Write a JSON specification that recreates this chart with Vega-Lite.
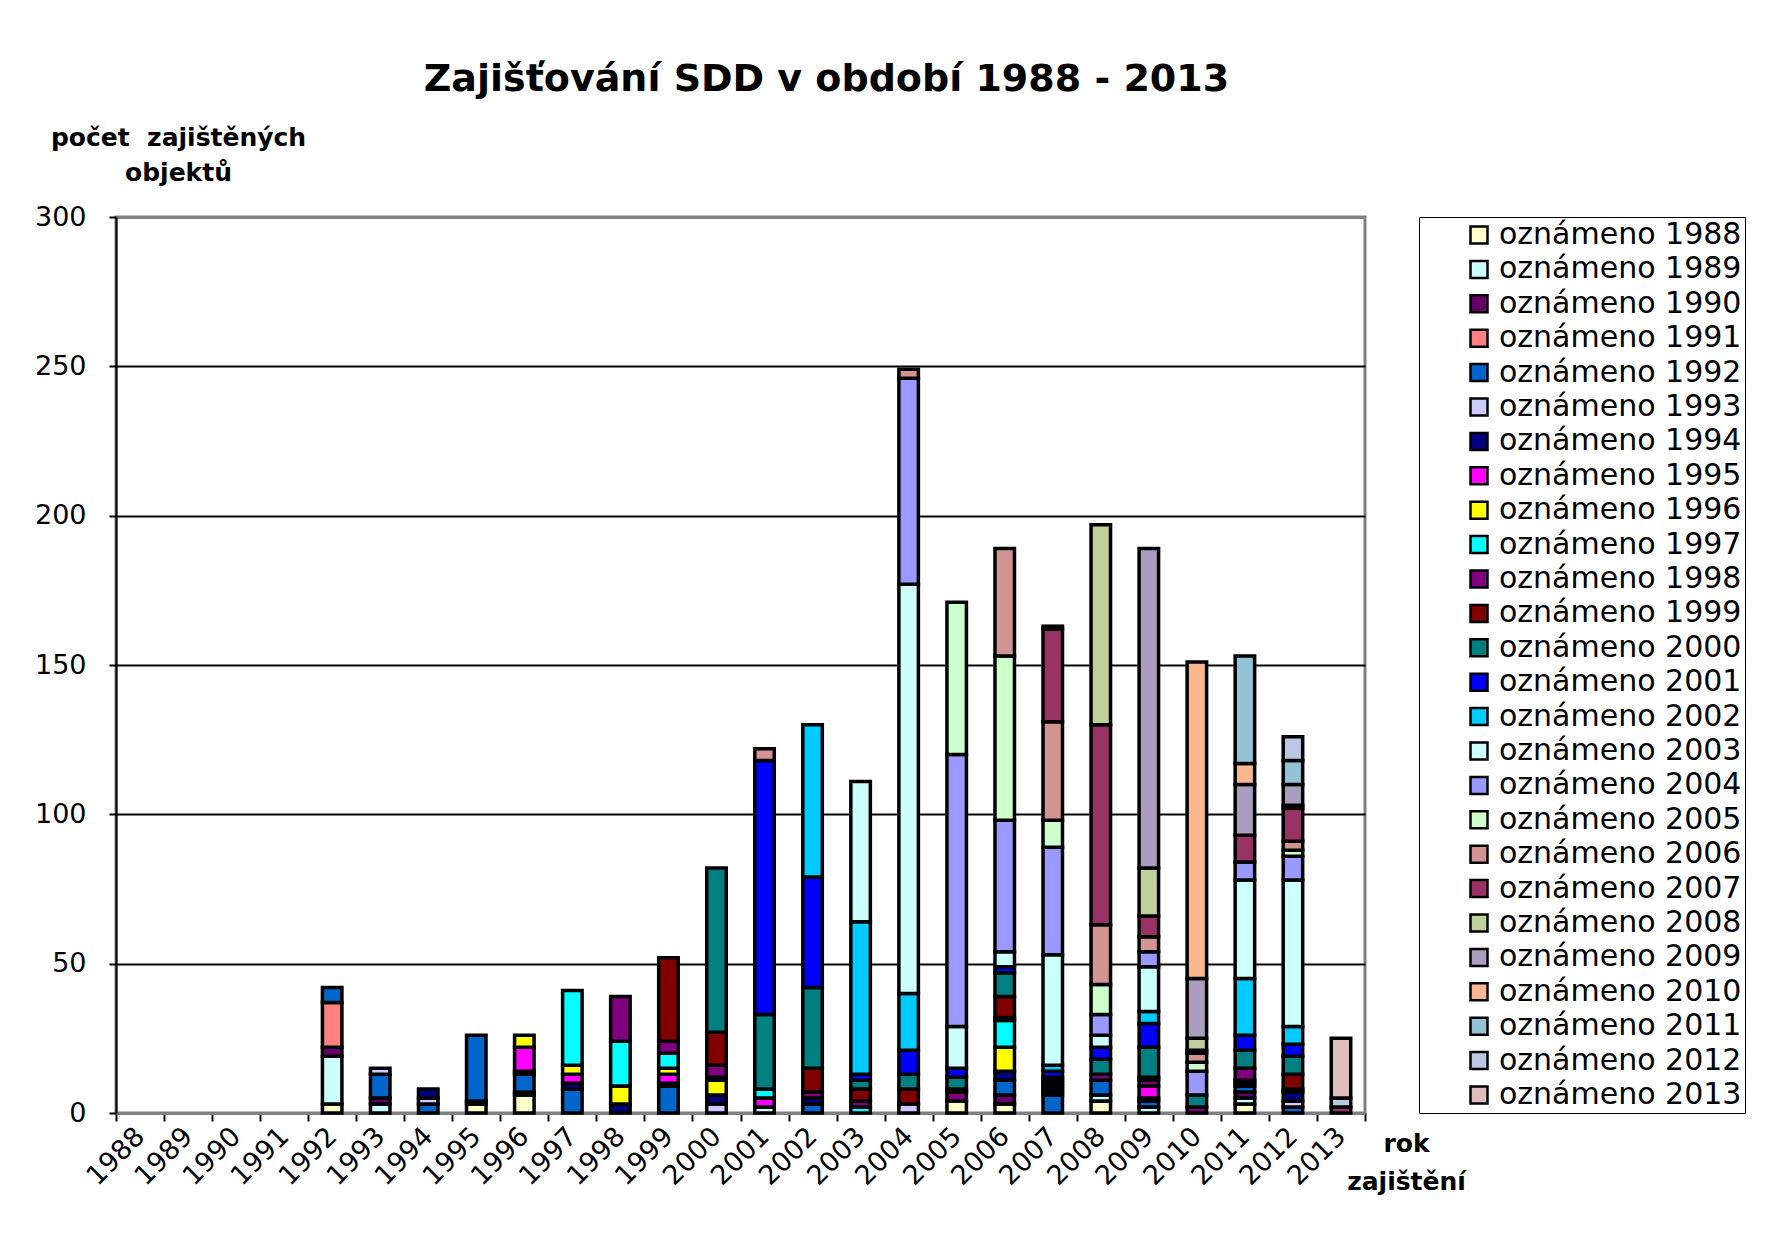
{
  "$schema": "https://vega.github.io/schema/vega-lite/v6.json",
  "width": 1249,
  "height": 896,
  "autosize": {"type": "none"},
  "padding": {"left": 116, "top": 217, "right": 426, "bottom": 131},
  "background": "white",
  "config": {
    "font": "DejaVu Sans",
    "view": {"stroke": "#808080", "strokeWidth": 3},
    "axis": {"labelFont": "DejaVu Sans", "titleFont": "DejaVu Sans", "labelColor": "black", "titleColor": "black"}
  },
  "title": {
    "text": "Zajišťování SDD v období 1988 - 2013",
    "font": "DejaVu Sans",
    "fontSize": 38,
    "fontWeight": "bold",
    "color": "black",
    "anchor": "middle",
    "dx": 86,
    "offset": -12,
    "baseline": "bottom"
  },
  "data": {
    "values": [
      {"r": "1992", "z": "oznámeno 1988", "n": 3},
      {"r": "1992", "z": "oznámeno 1989", "n": 16},
      {"r": "1992", "z": "oznámeno 1990", "n": 3},
      {"r": "1992", "z": "oznámeno 1991", "n": 15},
      {"r": "1992", "z": "oznámeno 1992", "n": 5},
      {"r": "1993", "z": "oznámeno 1989", "n": 3},
      {"r": "1993", "z": "oznámeno 1990", "n": 2},
      {"r": "1993", "z": "oznámeno 1992", "n": 8},
      {"r": "1993", "z": "oznámeno 1993", "n": 2},
      {"r": "1994", "z": "oznámeno 1992", "n": 3},
      {"r": "1994", "z": "oznámeno 1993", "n": 2},
      {"r": "1994", "z": "oznámeno 1994", "n": 3},
      {"r": "1995", "z": "oznámeno 1988", "n": 3},
      {"r": "1995", "z": "oznámeno 1990", "n": 1},
      {"r": "1995", "z": "oznámeno 1992", "n": 22},
      {"r": "1996", "z": "oznámeno 1988", "n": 6},
      {"r": "1996", "z": "oznámeno 1990", "n": 1},
      {"r": "1996", "z": "oznámeno 1992", "n": 6},
      {"r": "1996", "z": "oznámeno 1994", "n": 1},
      {"r": "1996", "z": "oznámeno 1995", "n": 8},
      {"r": "1996", "z": "oznámeno 1996", "n": 4},
      {"r": "1997", "z": "oznámeno 1992", "n": 8},
      {"r": "1997", "z": "oznámeno 1994", "n": 2},
      {"r": "1997", "z": "oznámeno 1995", "n": 3},
      {"r": "1997", "z": "oznámeno 1996", "n": 3},
      {"r": "1997", "z": "oznámeno 1997", "n": 25},
      {"r": "1998", "z": "oznámeno 1994", "n": 3},
      {"r": "1998", "z": "oznámeno 1996", "n": 6},
      {"r": "1998", "z": "oznámeno 1997", "n": 15},
      {"r": "1998", "z": "oznámeno 1998", "n": 15},
      {"r": "1999", "z": "oznámeno 1992", "n": 9},
      {"r": "1999", "z": "oznámeno 1994", "n": 1},
      {"r": "1999", "z": "oznámeno 1995", "n": 3},
      {"r": "1999", "z": "oznámeno 1996", "n": 2},
      {"r": "1999", "z": "oznámeno 1997", "n": 5},
      {"r": "1999", "z": "oznámeno 1998", "n": 4},
      {"r": "1999", "z": "oznámeno 1999", "n": 28},
      {"r": "2000", "z": "oznámeno 1993", "n": 3},
      {"r": "2000", "z": "oznámeno 1994", "n": 3},
      {"r": "2000", "z": "oznámeno 1996", "n": 5},
      {"r": "2000", "z": "oznámeno 1997", "n": 1},
      {"r": "2000", "z": "oznámeno 1998", "n": 4},
      {"r": "2000", "z": "oznámeno 1999", "n": 11},
      {"r": "2000", "z": "oznámeno 2000", "n": 55},
      {"r": "2001", "z": "oznámeno 1989", "n": 2},
      {"r": "2001", "z": "oznámeno 1995", "n": 3},
      {"r": "2001", "z": "oznámeno 1997", "n": 3},
      {"r": "2001", "z": "oznámeno 2000", "n": 25},
      {"r": "2001", "z": "oznámeno 2001", "n": 85},
      {"r": "2001", "z": "oznámeno 2006", "n": 4},
      {"r": "2002", "z": "oznámeno 1992", "n": 3},
      {"r": "2002", "z": "oznámeno 1994", "n": 2},
      {"r": "2002", "z": "oznámeno 1998", "n": 2},
      {"r": "2002", "z": "oznámeno 1999", "n": 8},
      {"r": "2002", "z": "oznámeno 2000", "n": 27},
      {"r": "2002", "z": "oznámeno 2001", "n": 37},
      {"r": "2002", "z": "oznámeno 2002", "n": 51},
      {"r": "2003", "z": "oznámeno 1997", "n": 2},
      {"r": "2003", "z": "oznámeno 1998", "n": 2},
      {"r": "2003", "z": "oznámeno 1999", "n": 4},
      {"r": "2003", "z": "oznámeno 2000", "n": 3},
      {"r": "2003", "z": "oznámeno 2001", "n": 2},
      {"r": "2003", "z": "oznámeno 2002", "n": 51},
      {"r": "2003", "z": "oznámeno 2003", "n": 47},
      {"r": "2004", "z": "oznámeno 1993", "n": 3},
      {"r": "2004", "z": "oznámeno 1999", "n": 5},
      {"r": "2004", "z": "oznámeno 2000", "n": 5},
      {"r": "2004", "z": "oznámeno 2001", "n": 8},
      {"r": "2004", "z": "oznámeno 2002", "n": 19},
      {"r": "2004", "z": "oznámeno 2003", "n": 137},
      {"r": "2004", "z": "oznámeno 2004", "n": 69},
      {"r": "2004", "z": "oznámeno 2006", "n": 3},
      {"r": "2005", "z": "oznámeno 1988", "n": 4},
      {"r": "2005", "z": "oznámeno 1998", "n": 3},
      {"r": "2005", "z": "oznámeno 1999", "n": 1},
      {"r": "2005", "z": "oznámeno 2000", "n": 4},
      {"r": "2005", "z": "oznámeno 2001", "n": 3},
      {"r": "2005", "z": "oznámeno 2003", "n": 14},
      {"r": "2005", "z": "oznámeno 2004", "n": 91},
      {"r": "2005", "z": "oznámeno 2005", "n": 51},
      {"r": "2006", "z": "oznámeno 1988", "n": 3},
      {"r": "2006", "z": "oznámeno 1990", "n": 3},
      {"r": "2006", "z": "oznámeno 1992", "n": 5},
      {"r": "2006", "z": "oznámeno 1994", "n": 3},
      {"r": "2006", "z": "oznámeno 1996", "n": 8},
      {"r": "2006", "z": "oznámeno 1997", "n": 9},
      {"r": "2006", "z": "oznámeno 1998", "n": 1},
      {"r": "2006", "z": "oznámeno 1999", "n": 7},
      {"r": "2006", "z": "oznámeno 2000", "n": 8},
      {"r": "2006", "z": "oznámeno 2001", "n": 2},
      {"r": "2006", "z": "oznámeno 2003", "n": 5},
      {"r": "2006", "z": "oznámeno 2004", "n": 44},
      {"r": "2006", "z": "oznámeno 2005", "n": 55},
      {"r": "2006", "z": "oznámeno 2006", "n": 36},
      {"r": "2007", "z": "oznámeno 1992", "n": 6},
      {"r": "2007", "z": "oznámeno 1993", "n": 1},
      {"r": "2007", "z": "oznámeno 1994", "n": 1},
      {"r": "2007", "z": "oznámeno 1996", "n": 1},
      {"r": "2007", "z": "oznámeno 1998", "n": 1},
      {"r": "2007", "z": "oznámeno 1999", "n": 1},
      {"r": "2007", "z": "oznámeno 2000", "n": 1},
      {"r": "2007", "z": "oznámeno 2001", "n": 2},
      {"r": "2007", "z": "oznámeno 2002", "n": 2},
      {"r": "2007", "z": "oznámeno 2003", "n": 37},
      {"r": "2007", "z": "oznámeno 2004", "n": 36},
      {"r": "2007", "z": "oznámeno 2005", "n": 9},
      {"r": "2007", "z": "oznámeno 2006", "n": 33},
      {"r": "2007", "z": "oznámeno 2007", "n": 31},
      {"r": "2007", "z": "oznámeno 2008", "n": 1},
      {"r": "2008", "z": "oznámeno 1988", "n": 4},
      {"r": "2008", "z": "oznámeno 1989", "n": 2},
      {"r": "2008", "z": "oznámeno 1992", "n": 5},
      {"r": "2008", "z": "oznámeno 1998", "n": 2},
      {"r": "2008", "z": "oznámeno 2000", "n": 5},
      {"r": "2008", "z": "oznámeno 2001", "n": 4},
      {"r": "2008", "z": "oznámeno 2003", "n": 4},
      {"r": "2008", "z": "oznámeno 2004", "n": 7},
      {"r": "2008", "z": "oznámeno 2005", "n": 10},
      {"r": "2008", "z": "oznámeno 2006", "n": 20},
      {"r": "2008", "z": "oznámeno 2007", "n": 67},
      {"r": "2008", "z": "oznámeno 2008", "n": 67},
      {"r": "2009", "z": "oznámeno 1989", "n": 2},
      {"r": "2009", "z": "oznámeno 1992", "n": 2},
      {"r": "2009", "z": "oznámeno 1994", "n": 1},
      {"r": "2009", "z": "oznámeno 1995", "n": 4},
      {"r": "2009", "z": "oznámeno 1998", "n": 2},
      {"r": "2009", "z": "oznámeno 1999", "n": 1},
      {"r": "2009", "z": "oznámeno 2000", "n": 10},
      {"r": "2009", "z": "oznámeno 2001", "n": 8},
      {"r": "2009", "z": "oznámeno 2002", "n": 4},
      {"r": "2009", "z": "oznámeno 2003", "n": 15},
      {"r": "2009", "z": "oznámeno 2004", "n": 5},
      {"r": "2009", "z": "oznámeno 2006", "n": 5},
      {"r": "2009", "z": "oznámeno 2007", "n": 7},
      {"r": "2009", "z": "oznámeno 2008", "n": 16},
      {"r": "2009", "z": "oznámeno 2009", "n": 107},
      {"r": "2010", "z": "oznámeno 1998", "n": 2},
      {"r": "2010", "z": "oznámeno 2000", "n": 4},
      {"r": "2010", "z": "oznámeno 2004", "n": 8},
      {"r": "2010", "z": "oznámeno 2005", "n": 3},
      {"r": "2010", "z": "oznámeno 2006", "n": 3},
      {"r": "2010", "z": "oznámeno 2007", "n": 1},
      {"r": "2010", "z": "oznámeno 2008", "n": 4},
      {"r": "2010", "z": "oznámeno 2009", "n": 20},
      {"r": "2010", "z": "oznámeno 2010", "n": 106},
      {"r": "2011", "z": "oznámeno 1988", "n": 3},
      {"r": "2011", "z": "oznámeno 1989", "n": 2},
      {"r": "2011", "z": "oznámeno 1990", "n": 2},
      {"r": "2011", "z": "oznámeno 1992", "n": 2},
      {"r": "2011", "z": "oznámeno 1994", "n": 1},
      {"r": "2011", "z": "oznámeno 1997", "n": 1},
      {"r": "2011", "z": "oznámeno 1998", "n": 4},
      {"r": "2011", "z": "oznámeno 2000", "n": 6},
      {"r": "2011", "z": "oznámeno 2001", "n": 5},
      {"r": "2011", "z": "oznámeno 2002", "n": 19},
      {"r": "2011", "z": "oznámeno 2003", "n": 33},
      {"r": "2011", "z": "oznámeno 2004", "n": 6},
      {"r": "2011", "z": "oznámeno 2007", "n": 9},
      {"r": "2011", "z": "oznámeno 2009", "n": 17},
      {"r": "2011", "z": "oznámeno 2010", "n": 7},
      {"r": "2011", "z": "oznámeno 2011", "n": 36},
      {"r": "2012", "z": "oznámeno 1992", "n": 2},
      {"r": "2012", "z": "oznámeno 1993", "n": 2},
      {"r": "2012", "z": "oznámeno 1994", "n": 3},
      {"r": "2012", "z": "oznámeno 1998", "n": 1},
      {"r": "2012", "z": "oznámeno 1999", "n": 5},
      {"r": "2012", "z": "oznámeno 2000", "n": 6},
      {"r": "2012", "z": "oznámeno 2001", "n": 4},
      {"r": "2012", "z": "oznámeno 2002", "n": 6},
      {"r": "2012", "z": "oznámeno 2003", "n": 49},
      {"r": "2012", "z": "oznámeno 2004", "n": 8},
      {"r": "2012", "z": "oznámeno 2005", "n": 2},
      {"r": "2012", "z": "oznámeno 2006", "n": 3},
      {"r": "2012", "z": "oznámeno 2007", "n": 11},
      {"r": "2012", "z": "oznámeno 2008", "n": 1},
      {"r": "2012", "z": "oznámeno 2009", "n": 7},
      {"r": "2012", "z": "oznámeno 2011", "n": 8},
      {"r": "2012", "z": "oznámeno 2012", "n": 8},
      {"r": "2013", "z": "oznámeno 2007", "n": 2},
      {"r": "2013", "z": "oznámeno 2012", "n": 3},
      {"r": "2013", "z": "oznámeno 2013", "n": 20}
    ]
  },
  "mark": {"type": "bar", "size": 19.5, "stroke": "black", "strokeWidth": 3.5},
  "encoding": {
    "x": {
      "field": "r",
      "type": "ordinal",
      "scale": {
        "domain": ["1988","1989","1990","1991","1992","1993","1994","1995","1996","1997","1998","1999","2000","2001","2002","2003","2004","2005","2006","2007","2008","2009","2010","2011","2012","2013"],
        "paddingInner": 0,
        "paddingOuter": 0
      },
      "axis": {
        "title": ["rok", "zajištění"],
        "titleX": 1290,
        "titleY": 38,
        "titleAlign": "center",
        "titleBaseline": "alphabetic",
        "titleAngle": 0,
        "titleFontSize": 25,
        "titleFontWeight": "bold",
        "titleLineHeight": 38,
        "labelAngle": -45,
        "labelAlign": "right",
        "labelBaseline": "middle",
        "labelFontSize": 27,
        "labelPadding": 11,
        "tickSize": 8,
        "tickWidth": 2,
        "tickColor": "black",
        "tickBand": "extent",
        "domainColor": "#808080",
        "domainWidth": 3,
        "grid": false
      }
    },
    "y": {
      "field": "n",
      "type": "quantitative",
      "stack": "zero",
      "scale": {"domain": [0, 300], "nice": false},
      "axis": {
        "title": ["počet\u00a0\u00a0zajištěných", "objektů"],
        "titleX": 62,
        "titleY": -72,
        "titleAngle": 0,
        "titleAlign": "center",
        "titleBaseline": "alphabetic",
        "titleFontSize": 25,
        "titleFontWeight": "bold",
        "titleLineHeight": 35,
        "values": [0, 50, 100, 150, 200, 250, 300],
        "labelFontSize": 27,
        "labelPadding": 23,
        "tickSize": 7,
        "tickWidth": 2,
        "tickColor": "black",
        "domainColor": "black",
        "domainWidth": 2,
        "grid": true,
        "gridColor": {"condition": {"test": "datum.value === 0 || datum.value === 300", "value": "#808080"}, "value": "black"},
        "gridWidth": {"condition": {"test": "datum.value === 0 || datum.value === 300", "value": 3}, "value": 2}
      }
    },
    "color": {
      "field": "z",
      "type": "nominal",
      "scale": {
        "domain": ["oznámeno 1988","oznámeno 1989","oznámeno 1990","oznámeno 1991","oznámeno 1992","oznámeno 1993","oznámeno 1994","oznámeno 1995","oznámeno 1996","oznámeno 1997","oznámeno 1998","oznámeno 1999","oznámeno 2000","oznámeno 2001","oznámeno 2002","oznámeno 2003","oznámeno 2004","oznámeno 2005","oznámeno 2006","oznámeno 2007","oznámeno 2008","oznámeno 2009","oznámeno 2010","oznámeno 2011","oznámeno 2012","oznámeno 2013"],
        "range": ["#FFFFCC","#CCFFFF","#660066","#FF8080","#0066CC","#CCCCFF","#000080","#FF00FF","#FFFF00","#00FFFF","#800080","#800000","#008080","#0000FF","#00CCFF","#CCFFFF","#9999FF","#CCFFCC","#D39494","#993366","#BFD09B","#AA9DC0","#F8B791","#93C3D5","#BAC8E2","#DFBDBD"]
      },
      "legend": {
        "title": null,
        "orient": "right",
        "offset": 54,
        "padding": 3,
        "rowPadding": 4.4,
        "labelFontSize": 30,
        "labelFont": "DejaVu Sans",
        "labelColor": "black",
        "labelLimit": 400,
        "labelOffset": 5,
        "symbolType": "square",
        "symbolSize": 289,
        "symbolStrokeColor": "black",
        "symbolStrokeWidth": 2.5,
        "symbolOffset": 42,
        "strokeColor": "black",
        "fillColor": "white"
      }
    },
    "order": {"field": "z", "sort": "ascending"}
  }
}
